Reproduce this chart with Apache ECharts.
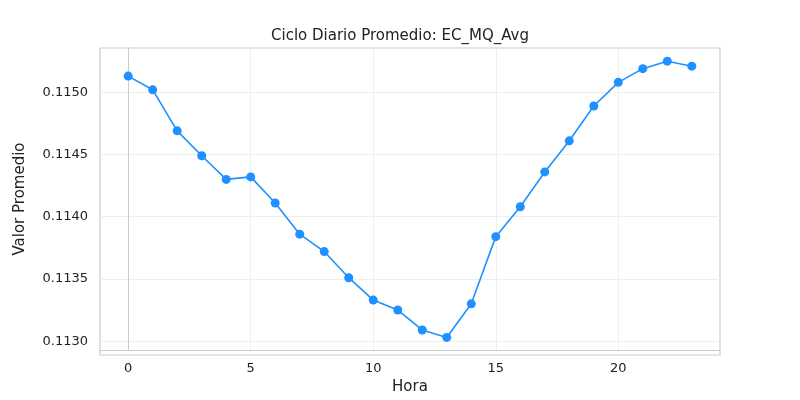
<!DOCTYPE html><html><head><meta charset="utf-8"><script src="https://cdn.jsdelivr.net/npm/echarts@6/dist/echarts.min.js"></script></head><body style="margin:0"><div id="c" style="width:800px;height:400px"></div><script>
const hours=[0,1,2,3,4,5,6,7,8,9,10,11,12,13,14,15,16,17,18,19,20,21,22,23];
const values=[0.11513,0.11502,0.11469,0.11449,0.11430,0.11432,0.11411,0.11386,0.11372,0.11351,0.11333,0.11325,0.11309,0.11303,0.11330,0.11384,0.11408,0.11436,0.11461,0.11489,0.11508,0.11519,0.11525,0.11521];
const xTicks=[0,5,10,15,20];
const yTicks=[0.1130,0.1135,0.1140,0.1145,0.1150];
const f='DejaVu Sans';
echarts.init(document.getElementById('c')).setOption({
title:{text:'Ciclo Diario Promedio: EC_MQ_Avg',left:'center',top:24,textStyle:{fontFamily:f,fontSize:15,fontWeight:'normal',color:'#222'}},
grid:{left:100,right:80,top:48,bottom:45},
xAxis:{type:'value',min:-1.15,max:24.15,name:'Hora',nameLocation:'middle',nameGap:30,nameTextStyle:{fontFamily:f,fontSize:15,color:'#222'},
axisLine:{show:true,onZero:false,lineStyle:{color:'#ccc'}},axisTick:{show:false,customValues:xTicks},
axisLabel:{customValues:xTicks,fontFamily:f,fontSize:13,color:'#222',margin:12},splitLine:{show:true,lineStyle:{color:'#eee'}}},
yAxis:{type:'value',min:0.112929,max:0.115356,name:'Valor Promedio',nameLocation:'middle',nameGap:72,nameTextStyle:{fontFamily:f,fontSize:15,color:'#222'},
axisLine:{show:true,lineStyle:{color:'#ccc'}},axisTick:{show:false,customValues:yTicks},
axisLabel:{customValues:yTicks,formatter:v=>v.toFixed(4),fontFamily:f,fontSize:13,color:'#222',margin:12},splitLine:{show:true,lineStyle:{color:'#eee'}}},
series:[{type:'line',data:hours.map((h,i)=>[h,values[i]]),symbol:'circle',symbolSize:9,lineStyle:{color:'#1e90ff',width:1.6},itemStyle:{color:'#1e90ff'},animation:false}],
graphic:[{type:'rect',shape:{x:100,y:48,width:620,height:307},style:{fill:'none',stroke:'#ccc',lineWidth:1.2},silent:true}]
});
</script></body></html>
